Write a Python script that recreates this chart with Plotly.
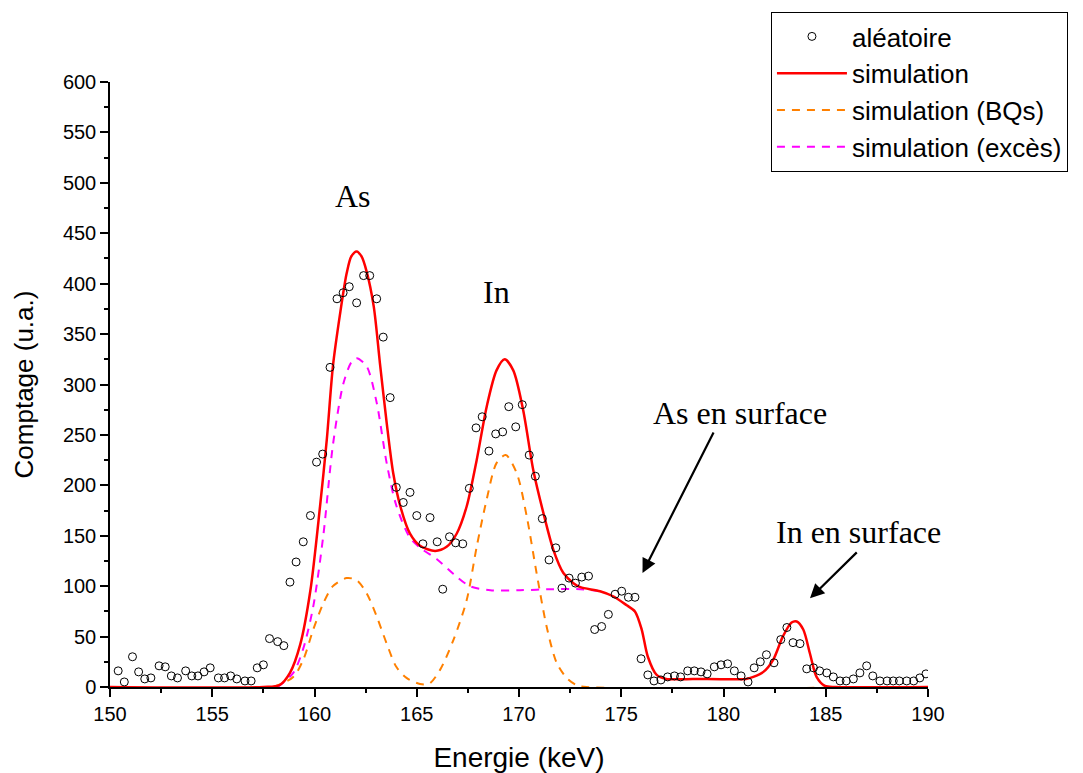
import plotly.graph_objects as go

# ---- data ----
pts_x = [150.4, 150.7, 151.1, 151.4, 151.7, 152.0, 152.4, 152.7, 153.0, 153.3,
         153.7, 154.0, 154.3, 154.6, 154.9, 155.3, 155.6, 155.9, 156.2, 156.6,
         156.9, 157.2, 157.5, 157.8, 158.2, 158.5, 158.8, 159.1, 159.45, 159.8,
         160.1, 160.4, 160.76, 161.1, 161.4, 161.7, 162.06, 162.4, 162.7, 163.04,
         163.36, 163.7, 164.0, 164.34, 164.67, 165.0, 165.3, 165.65, 166.0, 166.27,
         166.6, 166.9, 167.25, 167.57, 167.9, 168.2, 168.53, 168.86, 169.2, 169.5,
         169.84, 170.16, 170.5, 170.8, 171.14, 171.47, 171.8, 172.1, 172.45, 172.76,
         173.07, 173.4, 173.7, 174.04, 174.37, 174.7, 175.02, 175.35, 175.67, 175.97,
         176.3, 176.6, 176.94, 177.27, 177.6, 177.9, 178.25, 178.57, 178.9, 179.2,
         179.55, 179.88, 180.2, 180.53, 180.86, 181.2, 181.5, 181.8, 182.1, 182.47,
         182.8, 183.1, 183.4, 183.74, 184.07, 184.4, 184.7, 185.05, 185.37, 185.7,
         186.0, 186.35, 186.67, 187.0, 187.3, 187.65, 188.0, 188.3, 188.6, 188.96,
         189.3, 189.6, 189.9]
pts_y = [16, 5, 30, 15, 8, 9, 21, 20, 11, 9,
         16, 11, 11, 15, 19, 9, 9, 11, 8, 6,
         6, 19, 22, 48, 45, 41, 104, 124, 144, 170,
         223, 231, 317, 385, 391, 397, 381, 408, 408, 385,
         347, 287, 198, 183, 193, 170, 142, 168, 144, 97,
         149, 143, 142, 197, 257, 268, 234, 251, 253, 278,
         258, 280, 230, 209, 167, 126, 138, 98, 108, 103,
         109, 110, 57, 60, 72, 92, 95, 89, 89, 28,
         12, 6, 7, 10, 11, 10, 16, 16, 15, 13,
         20, 22, 23, 16, 11, 5, 19, 25, 32, 24,
         47, 59, 44, 43, 18, 19, 16, 14, 10, 6,
         6, 8, 14, 21, 11, 6, 6, 6, 6, 6,
         6, 9, 13]

sim_x = [150, 157.5, 158.3, 158.8, 159.3, 159.8, 160.27, 160.6, 160.9, 161.25,
         161.57, 161.8, 162.06, 162.3, 162.55, 162.9, 163.2, 163.53, 163.85, 164.2,
         164.67, 165.16, 165.9, 166.46, 166.95, 167.44, 167.93, 168.42, 168.9, 169.3,
         169.72, 170.2, 170.7, 171.2, 171.68, 172.17, 172.66, 173.0, 173.96, 174.6,
         175.27, 175.67, 176.0, 176.3, 176.73, 177.2, 178.5, 181.1, 181.46, 181.95,
         182.43, 182.9, 183.33, 183.58, 183.9, 184.23, 184.55, 184.96, 185.5, 190]
sim_y = [0, 0, 2, 14, 42, 96, 179, 245, 318, 370,
         410, 427, 432, 427, 412, 377, 321, 262, 212, 179,
         152, 140, 135, 139, 152, 179, 225, 278, 314, 325,
         314, 275, 215, 172, 136, 113, 103, 99, 95, 90,
         81, 75, 57, 30, 12, 8, 8, 8, 10, 15,
         27, 50, 64, 65, 57, 33, 10, 1, 0, 0]

bq_x = [158.0, 158.96, 159.45, 159.94, 160.43, 160.9, 161.57, 162.06, 162.55, 163.04,
        163.53, 164.0, 164.5, 165.16, 165.6, 166.14, 166.8, 167.44, 167.93, 168.42,
        168.9, 169.35, 169.89, 170.38, 170.86, 171.35, 171.84, 172.33, 172.8, 173.3, 190]
bq_y = [0, 10, 27, 57, 83, 100, 108, 106, 93, 70,
        43, 20, 9, 3, 3, 17, 47, 86, 139, 186,
        222, 230, 212, 169, 113, 60, 24, 9, 2, 0, 0]

ex_x = [158.2, 158.96, 159.45, 159.94, 160.43, 160.9, 161.4, 161.8, 162.06, 162.55,
        163.04, 163.53, 164.0, 164.67, 165.3, 165.97, 166.8, 167.6, 168.6, 170.05,
        171.68, 173.0, 174.0]
ex_y = [0, 14, 38, 80, 150, 240, 300, 322, 326, 318,
        282, 222, 180, 148, 136, 127, 112, 100, 96, 96,
        97, 97, 95]

SANS = "Liberation Sans, Arial, sans-serif"
SERIF = "Liberation Serif, Times New Roman, serif"

fig = go.Figure()
fig.add_trace(go.Scatter(x=bq_x, y=bq_y, mode="lines", name="simulation (BQs)",
                         line=dict(color="#FF8000", width=2, dash="8px,7px", shape="spline", smoothing=0.8),
                         legendrank=3))
fig.add_trace(go.Scatter(x=ex_x, y=ex_y, mode="lines", name="simulation (excès)",
                         line=dict(color="#FF00FF", width=2, dash="8px,7px", shape="spline", smoothing=0.8),
                         legendrank=4))
fig.add_trace(go.Scatter(x=sim_x, y=sim_y, mode="lines", name="simulation",
                         line=dict(color="#FF0000", width=2.5, shape="spline", smoothing=0.8),
                         legendrank=2))
fig.add_trace(go.Scatter(x=pts_x, y=pts_y, mode="markers", name="aléatoire",
                         marker=dict(symbol="circle-open", size=8, color="black", line=dict(width=1)),
                         legendrank=1))

axis_common = dict(showgrid=False, zeroline=False, showline=True, linecolor="black", linewidth=1.5,
                   ticks="outside", ticklen=8, tickwidth=1.5, tickcolor="black",
                   tickfont=dict(family=SANS, size=20, color="black"))
fig.update_xaxes(range=[150, 190], dtick=5, tick0=150,
                 minor=dict(dtick=2.5, ticks="outside", ticklen=4, tickwidth=1.5, tickcolor="black"),
                 title=dict(text="Energie (keV)", font=dict(family=SANS, size=28, color="black"), standoff=30),
                 **axis_common)
fig.update_yaxes(range=[0, 600], dtick=50, tick0=0,
                 minor=dict(dtick=25, ticks="outside", ticklen=4, tickwidth=1.5, tickcolor="black"),
                 title=dict(text="Comptage (u.a.)", font=dict(family=SANS, size=26, color="black"), standoff=22),
                 **axis_common)

ann_font = dict(family=SERIF, size=32, color="black")
fig.add_annotation(x=161.88, y=487, text="As", showarrow=False, font=ann_font)
fig.add_annotation(x=168.92, y=392, text="In", showarrow=False, font=ann_font)
fig.add_annotation(x=180.8, y=272, text="As en surface", showarrow=False, font=ann_font)
fig.add_annotation(x=186.6, y=154, text="In en surface", showarrow=False, font=ann_font)
fig.add_annotation(x=176.04, y=113, ax=179.55, ay=254, axref="x", ayref="y", text="",
                   showarrow=True, arrowhead=2, arrowsize=1.3, arrowwidth=2.2, arrowcolor="black")
fig.add_annotation(x=184.23, y=88, ax=186.59, ay=135, axref="x", ayref="y", text="",
                   showarrow=True, arrowhead=2, arrowsize=1.3, arrowwidth=2.2, arrowcolor="black")

fig.update_layout(
    width=1083, height=773,
    margin=dict(l=110, r=155, t=82, b=86, autoexpand=False),
    plot_bgcolor="white", paper_bgcolor="white",
    showlegend=True,
    legend=dict(x=0.808, y=1.1157, xanchor="left", yanchor="top",
                bordercolor="black", borderwidth=1, bgcolor="white",
                font=dict(family=SANS, size=26, color="black"), itemwidth=70,
                traceorder="normal"),
)

fig.write_html("out.html", config={"displayModeBar": False},
               post_script="document.body.style.margin='0';")
